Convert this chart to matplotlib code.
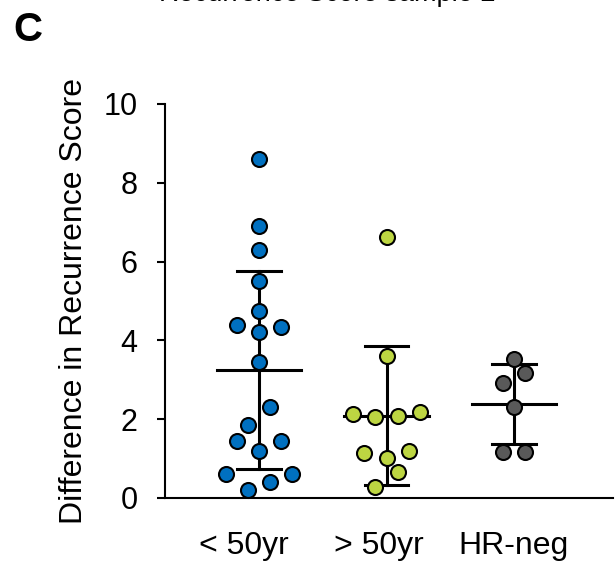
import matplotlib
matplotlib.use("Agg")
import matplotlib.pyplot as plt
import numpy as np

plt.rcParams["font.family"] = ["Liberation Sans", "DejaVu Sans"]

GROUPS = ["< 50yr", "> 50yr", "HR-neg"]
COLORS = ["#0070C0", "#BDD642", "#595959"]

# difference in recurrence score per patient
under_50 = [8.6, 6.9, 6.3, 5.5, 4.75, 4.4, 4.35, 4.2, 3.45, 2.3,
            1.85, 1.45, 1.45, 1.2, 0.6, 0.6, 0.4, 0.2]
over_50 = [6.62, 3.6, 2.13, 2.05, 2.09, 2.18, 1.14, 1.02, 1.18, 0.66, 0.29]
hr_neg = [3.53, 3.18, 2.93, 2.32, 1.17, 1.17]

# beeswarm column of each dot (in dot widths)
under_50_cols = [0, 0, 0, 0, 0, -2, 2, 0, 0, 1, -1, -2, 2, 0, -3, 3, 1, -1]
over_50_cols = [0, 0, -3, -1, 1, 3, -2, 0, 2, 1, -1]
hr_neg_cols = [0, 1, -1, 0, -1, 1]

data = [under_50, over_50, hr_neg]
cols = [under_50_cols, over_50_cols, hr_neg_cols]

DOT_STEP = 0.087
MEAN_HALF = 0.33
CAP_HALF = 0.17
LABEL_SHIFT = [-0.118, -0.063, 0.0]  # category labels sit a little left of the dots

fig = plt.figure(figsize=(6.16, 5.63), dpi=100)
ax = fig.add_axes([0.268, 0.1155, 0.727, 0.6998])

# mean +/- SD bars behind the dots
for i, (vals, c, color) in enumerate(zip(data, cols, COLORS)):
    vals = np.asarray(vals)
    m = vals.mean()
    sd = vals.std(ddof=1)
    lw = 2.2
    ax.plot([i, i], [m - sd, m + sd], color="black", lw=lw, zorder=2)
    ax.plot([i - MEAN_HALF, i + MEAN_HALF], [m, m], color="black", lw=lw, zorder=2)
    for y in (m - sd, m + sd):
        ax.plot([i - CAP_HALF, i + CAP_HALF], [y, y], color="black", lw=lw, zorder=2)
    xs = i + np.asarray(c) * DOT_STEP
    ax.plot(xs, vals, "o", ms=10.8, mfc=color, mec="black", mew=1.5,
            linestyle="none", zorder=3, clip_on=False)

ax.set_xlim(-0.737, 2.776)
ax.set_ylim(0, 10)
ax.set_yticks([0, 2, 4, 6, 8, 10])
ax.set_xticks([i + s for i, s in enumerate(LABEL_SHIFT)])
ax.set_xticklabels(GROUPS)
ax.tick_params(axis="y", direction="out", length=5.8, width=1.5, pad=14, labelsize=22)
ax.tick_params(axis="x", length=0, pad=24, labelsize=23)
for side in ("top", "right"):
    ax.spines[side].set_visible(False)
for side in ("left", "bottom"):
    ax.spines[side].set_linewidth(1.5)

ax.set_ylabel("Difference in Recurrence Score", fontsize=23)
ax.yaxis.set_label_coords(-0.170, 0.5)

fig.text(0.021, 0.927, "C", fontsize=29, fontweight="bold", ha="left", va="baseline")
fig.text(0.531, 0.9985, "Recurrence Score sample 2", fontsize=19.5, ha="center", va="baseline")

fig.savefig("out.png", dpi=100)
